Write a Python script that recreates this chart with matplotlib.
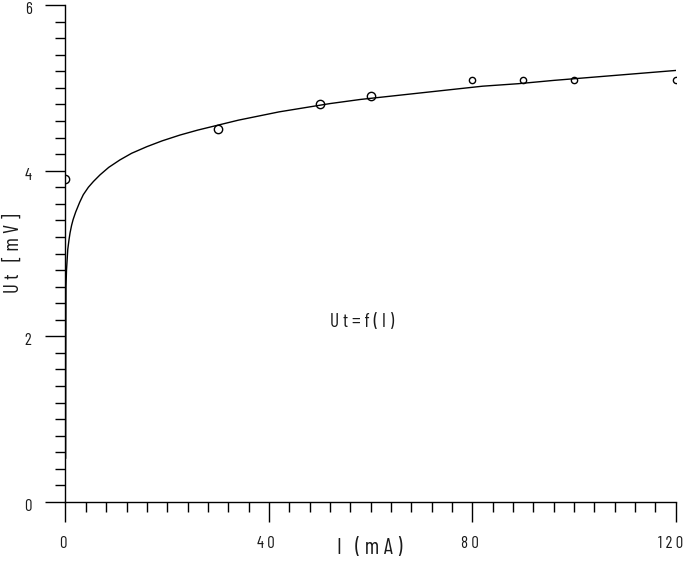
import matplotlib.pyplot as plt
from matplotlib.ticker import MultipleLocator
from matplotlib.transforms import ScaledTranslation

plt.rcParams['font.family'] = ['Barlow Condensed', 'DejaVu Sans']
plt.rcParams['font.weight'] = 'normal'

# measured points
I_meas = [0, 30, 50, 60, 80, 90, 100, 120]
Ut_meas = [3.9, 4.5, 4.8, 4.9, 5.1, 5.1, 5.1, 5.1]

# fitted curve
I_fit = [0.03, 0.05, 0.1, 0.2, 0.45, 0.7, 0.9, 1.2, 1.5, 2.0, 2.8, 3.5, 4.5,
         5.5, 6.8, 8.5, 10.7, 13, 16, 19, 22.5, 26, 30, 34, 38, 42, 46, 52,
         58, 64, 70, 76, 82, 89, 96, 102, 108, 114, 120]
Ut_fit = [0.53, 1.6, 2.6, 2.8, 3.05, 3.17, 3.25, 3.34, 3.41, 3.50, 3.62, 3.71,
          3.80, 3.87, 3.95, 4.04, 4.13, 4.21, 4.29, 4.36, 4.43, 4.49, 4.55,
          4.61, 4.66, 4.71, 4.75, 4.81, 4.86, 4.90, 4.94, 4.98, 5.02, 5.05,
          5.09, 5.12, 5.15, 5.18, 5.21]

xticks = [0, 40, 80, 120]
yticks = [0, 2, 4, 6]

def spaced(s):
    return ' '.join(s)

txtc = '#1a1a1a'

fig = plt.figure(figsize=(6.85, 5.63), dpi=100)
ax = fig.add_axes([0.0956, 0.1083, 0.891, 0.8828])

ax.plot(I_fit, Ut_fit, color='black', lw=1.0)
ax.plot(I_meas[:4], Ut_meas[:4], 'o', mfc='none', mec='black', ms=6, mew=1.0)
ax.plot(I_meas[4:], Ut_meas[4:], 'o', mfc='none', mec='black', ms=4.5, mew=1.0)

ax.set_xlim(0, 120)
ax.set_ylim(0, 6)
for s in ['top', 'right']:
    ax.spines[s].set_visible(False)
for s in ['left', 'bottom']:
    ax.spines[s].set_linewidth(1.0)

ax.set_xticks(xticks)
ax.set_xticklabels([spaced(str(t)) for t in xticks])
ax.set_yticks(yticks)
ax.set_yticklabels([str(t) for t in yticks])
ax.xaxis.set_minor_locator(MultipleLocator(4))
ax.yaxis.set_minor_locator(MultipleLocator(0.2))
ax.tick_params(which='major', direction='out', length=14.4, width=1.0,
               labelsize=12, labelcolor=txtc, pad=10)
ax.tick_params(which='minor', direction='out', length=7.2, width=1.0)

# labels sit a little left / below their ticks in the original
for lbl in ax.get_xticklabels():
    lbl.set_transform(lbl.get_transform() + ScaledTranslation(-3 / 100, 0, fig.dpi_scale_trans))
for lbl in ax.get_yticklabels():
    lbl.set_transform(lbl.get_transform() + ScaledTranslation(0, -3 / 100, fig.dpi_scale_trans))
last = ax.get_xticklabels()[-1]
last.set_ha('right')
last.set_transform(last.get_transform() + ScaledTranslation(10 / 100, 0, fig.dpi_scale_trans))

ax.set_xlabel(spaced('I (mA)'), fontsize=16, color=txtc, va='center')
ax.xaxis.set_label_coords(0.499, -0.0926)
ax.set_ylabel(spaced('Ut [mV]'), fontsize=15, color=txtc, va='center')
ax.yaxis.set_label_coords(-0.086, 0.5)
ax.text(58.3, 2.17, 'U t = f ( I )', fontsize=14, color=txtc,
        ha='center', va='center')

fig.savefig('out.png', dpi=100)
